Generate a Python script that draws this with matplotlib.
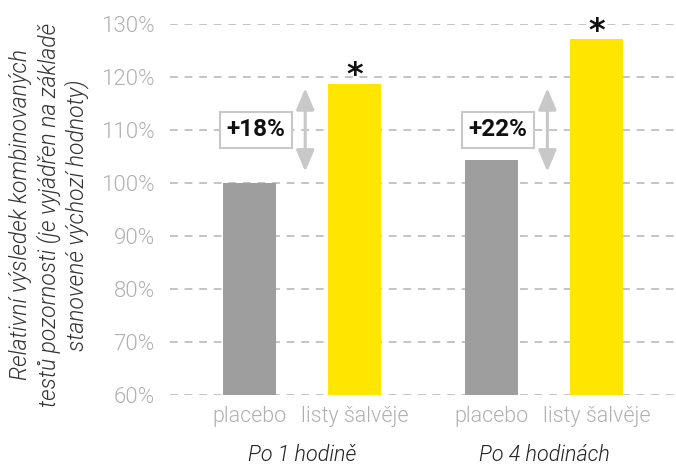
import matplotlib
matplotlib.use("Agg")
import matplotlib.pyplot as plt
from matplotlib.patches import FancyArrowPatch

plt.rcParams['font.family'] = ['Roboto', 'DejaVu Sans']

groups = ['Po 1 hodině', 'Po 4 hodinách']
series = ['placebo', 'listy šalvěje']
placebo = [100.0, 104.3]
salvia = [118.7, 127.1]
diff_labels = ['+18%', '+22%']
y_ticks = [60, 70, 80, 90, 100, 110, 120, 130]
y_label = ('Relativní výsledek kombinovaných\n'
           'testů pozornosti (je vyjádřen na základě\n'
           'stanovené výchozí hodnoty)')

gray = '#9e9e9e'
yellow = '#ffe600'
light = '#c8c8c8'
tick_col = '#b0b0b0'
LIGHT = 300  # Roboto Light

fig = plt.figure(figsize=(6.76, 4.66), dpi=100)
ax = fig.add_axes([170 / 676, (466 - 394.7) / 466, 504 / 676, (394.7 - 24) / 466])

gap = 2.305
w = 0.505
x_pl = [0, gap]
x_sa = [1, 1 + gap]

ax.set_ylim(60, 130)
ax.set_xlim(-0.757, 4.04)
for y in y_ticks:
    ax.axhline(y, color='#c4c4c4', lw=1.4, ls=(0, (4, 3.5)), zorder=0)

ax.bar(x_pl, placebo, width=w, bottom=0, color=gray, zorder=2)
ax.bar(x_sa, salvia, width=w, bottom=0, color=yellow, zorder=2)

# asterisks above salvia bars
for x, v in zip(x_sa, salvia):
    ax.text(x, v + 1.5, '*', ha='center', va='center', fontsize=23,
            fontweight='bold', family='DejaVu Sans', color='#111111',
            clip_on=False, zorder=5)

# difference arrows and boxes
for i in range(2):
    xa = x_pl[i] + 0.53
    arr = FancyArrowPatch((xa, 101.6), (xa, 118.4),
                          arrowstyle='<|-|>,head_length=1.3,head_width=0.55',
                          mutation_scale=10, color=light, lw=2.2, zorder=3)
    ax.add_patch(arr)
    ax.text(x_pl[i] + 0.06, 110, diff_labels[i], ha='center', va='center',
            fontsize=17.5, fontweight='bold', color='#111111', zorder=4,
            bbox=dict(boxstyle='square,pad=0.27', fc='white', ec=light, lw=1.5))

ax.set_yticks(y_ticks)
ax.set_yticklabels([f'{t}%' for t in y_ticks], fontsize=16, fontweight=LIGHT,
                   color=tick_col)
ax.tick_params(axis='y', length=0, pad=11)
ax.set_xticks([x_pl[0], x_sa[0], x_pl[1], x_sa[1]])
ax.set_xticklabels([series[0], series[1], series[0], series[1]], fontsize=15.5,
                   fontweight=LIGHT, color=tick_col)
ax.tick_params(axis='x', length=0, pad=8)

for i, g in enumerate(groups):
    ax.text((x_pl[i] + x_sa[i]) / 2, -0.163, g, transform=ax.get_xaxis_transform(),
            ha='center', va='center', fontsize=15.5, style='italic',
            fontweight=LIGHT, color='#222222')

for s in ax.spines.values():
    s.set_visible(False)

fig.text(49 / 676, (466 - 215) / 466, y_label, rotation=90, ha='center', va='center',
         fontsize=16.5, style='italic', fontweight=LIGHT, color='#333333',
         linespacing=1.2, multialignment='center')

fig.savefig('out.png', dpi=100)
